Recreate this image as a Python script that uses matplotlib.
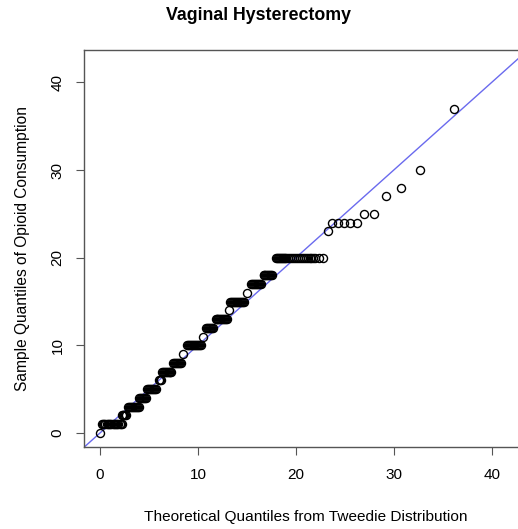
import matplotlib.pyplot as plt

plt.rcParams['font.family'] = ['Liberation Sans', 'DejaVu Sans']

# sample quantile levels and the theoretical quantiles plotted at each level
levels = [0, 1, 2, 3, 4, 5, 6, 7, 8, 9, 10, 11, 12, 13, 14, 15, 16, 17, 18, 20,
          23, 24, 25, 27, 28, 30, 37]
theo = [
    [0.0],
    [0.2, 0.32, 0.44, 0.56, 0.68, 0.8, 0.92, 1.04, 1.16, 1.28, 1.4, 1.52, 1.64, 1.76, 1.88, 2.0, 2.1, 2.2],
    [2.2, 2.3, 2.4, 2.5, 2.6, 2.7],
    [2.9, 3.0, 3.1, 3.2, 3.3, 3.4, 3.5, 3.6, 3.7, 3.8, 3.9, 4.0],
    [4.0, 4.1, 4.2, 4.3, 4.4, 4.5, 4.6, 4.7],
    [4.8, 4.9, 5.0, 5.1, 5.2, 5.3, 5.4, 5.5, 5.6, 5.7],
    [6.0, 6.1, 6.2],
    [6.3, 6.4, 6.5, 6.6, 6.7, 6.8, 6.9, 7.0, 7.1, 7.2, 7.3],
    [7.5, 7.6, 7.7, 7.8, 7.9, 8.0, 8.1, 8.2, 8.3],
    [8.5],
    [8.9, 9.0, 9.1, 9.2, 9.3, 9.4, 9.5, 9.6, 9.7, 9.8, 9.9, 10.0, 10.1, 10.2, 10.3],
    [10.5],
    [10.8, 10.9, 11.0, 11.1, 11.2, 11.3, 11.4, 11.5],
    [11.8, 11.9, 12.0, 12.1, 12.2, 12.3, 12.4, 12.5, 12.6, 12.7, 12.8, 12.9, 13.0],
    [13.2],
    [13.3, 13.4, 13.5, 13.6, 13.7, 13.8, 13.9, 14.0, 14.1, 14.2, 14.3, 14.4, 14.5, 14.6, 14.7],
    [15.0],
    [15.4, 15.5, 15.6, 15.7, 15.8, 15.9, 16.0, 16.1, 16.2, 16.3, 16.4],
    [16.7, 16.8, 16.9, 17.0, 17.1, 17.2, 17.3, 17.4, 17.5, 17.6],
    [18.0, 18.1, 18.2, 18.3, 18.4, 18.5, 18.6, 18.7, 18.8, 18.9, 19.0, 19.2, 19.4, 19.6,
     19.8, 20.0, 20.2, 20.4, 20.6, 20.8, 21.0, 21.2, 21.4, 21.6, 21.8, 22.0, 22.4, 22.8],
    [23.3],
    [23.7, 24.3, 24.9, 25.5, 26.2],
    [27.0, 28.0],
    [29.2],
    [30.7],
    [32.7],
    [36.2],
]

fig = plt.figure(figsize=(5.18, 5.29), dpi=100)
# plot region runs a little past the right edge of the image, as in the original
ax = fig.add_axes([0.1622, 0.155, 0.855, 0.7505])

xs = []
ys = []
for lv, q in zip(levels, theo):
    xs += q
    ys += [lv] * len(q)

ax.plot([-5, 50], [-5, 50], color='#6a6aee', lw=1.0, zorder=1)
ax.plot(xs, ys, linestyle='none', marker='o', markersize=5.8, markerfacecolor='none',
        markeredgecolor='black', markeredgewidth=1.0, zorder=2)

ax.set_xlim(-1.63, 43.6)
ax.set_ylim(-1.6, 43.7)
ax.set_xticks([0, 10, 20, 30, 40])
ax.set_yticks([0, 10, 20, 30, 40])
ax.tick_params(direction='out', length=6, width=0.8, color='#555555', labelsize=11, pad=9)
ax.tick_params(axis='y', pad=8)
for lab in ax.get_yticklabels():
    lab.set_rotation(90)
    lab.set_va('center')
for s in ax.spines.values():
    s.set_color('#555555')
    s.set_linewidth(1.0)

fig.text(0.5, 0.971, 'Vaginal Hysterectomy', ha='center', va='center',
         fontsize=12.8, fontweight='bold')
fig.text(0.59, 0.023, 'Theoretical Quantiles from Tweedie Distribution', ha='center',
         va='center', fontsize=11.1)
fig.text(0.043, 0.531, 'Sample Quantiles of Opioid Consumption', ha='center',
         va='center', rotation=90, fontsize=11.2)

fig.savefig('out.png', dpi=100)
